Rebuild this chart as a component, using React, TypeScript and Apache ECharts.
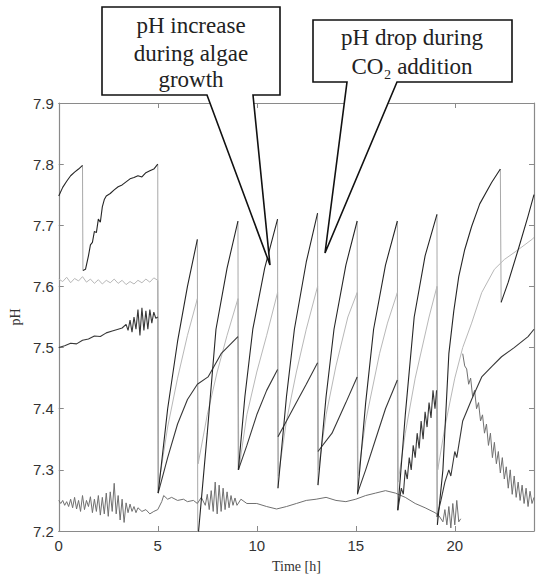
import React, { useEffect, useRef } from "react";
import * as echarts from "echarts";

// Time [h], pH pairs
const reactorA: [number, number][] = [
  [0, 7.748], [0.2, 7.762], [0.4, 7.772], [0.6, 7.781], [0.8, 7.787], [1.0, 7.792], [1.2, 7.798],
  [1.22, 7.626], [1.35, 7.628], [1.5, 7.65], [1.6, 7.668], [1.7, 7.672], [1.8, 7.69], [1.9, 7.688],
  [2.0, 7.71], [2.1, 7.705], [2.2, 7.73], [2.3, 7.742], [2.4, 7.748], [2.6, 7.752], [2.8, 7.758],
  [3.0, 7.763], [3.2, 7.766], [3.4, 7.771], [3.6, 7.776], [3.8, 7.778], [4.0, 7.781], [4.2, 7.779],
  [4.4, 7.786], [4.6, 7.789], [4.8, 7.792], [5.0, 7.8],
  [5.02, 7.262], [5.5, 7.4], [6.0, 7.51], [6.5, 7.6], [7.0, 7.677],
  [7.02, 7.185], [7.5, 7.36], [7.94, 7.53], [8.5, 7.63], [9.05, 7.707],
  [9.07, 7.3], [9.4, 7.42], [9.8, 7.53], [10.4, 7.63], [11.05, 7.71],
  [11.07, 7.27], [11.5, 7.42], [11.9, 7.53], [12.5, 7.64], [13.07, 7.72],
  [13.09, 7.275], [13.5, 7.42], [13.9, 7.53], [14.5, 7.635], [15.07, 7.707],
  [15.09, 7.26], [15.5, 7.41], [15.9, 7.53], [16.5, 7.635], [17.1, 7.707],
  [17.12, 7.234], [17.5, 7.39], [17.95, 7.55], [18.5, 7.65], [19.1, 7.718],
  [19.12, 7.21], [19.4, 7.3], [19.7, 7.49], [19.95, 7.56], [20.2, 7.616], [20.5, 7.66],
  [20.85, 7.698], [21.26, 7.735], [21.86, 7.77], [22.3, 7.792],
  [22.34, 7.574], [22.7, 7.607], [23.2, 7.66], [23.7, 7.715], [24, 7.75],
];

const reactorB: [number, number][] = [
  [0, 7.5], [0.3, 7.503], [0.6, 7.507], [0.9, 7.506], [1.2, 7.512], [1.5, 7.514], [1.8, 7.519],
  [2.1, 7.518], [2.4, 7.524], [2.7, 7.527], [3.0, 7.53], [3.2, 7.532], [3.4, 7.538], [3.5, 7.528],
  [3.6, 7.545], [3.7, 7.525], [3.8, 7.55], [3.9, 7.53], [4.0, 7.562], [4.1, 7.52], [4.2, 7.565],
  [4.3, 7.528], [4.4, 7.56], [4.5, 7.53], [4.6, 7.562], [4.7, 7.54], [4.8, 7.558], [4.9, 7.548],
  [5.0, 7.55],
  [5.02, 7.262], [5.5, 7.32], [6.0, 7.375], [6.5, 7.415], [7.0, 7.44], [7.54, 7.452], [8.2, 7.49],
  [9.05, 7.518],
  [9.07, 7.3], [9.5, 7.34], [10.0, 7.39], [10.5, 7.43], [11.05, 7.464],
  [11.07, 7.354], [11.5, 7.38], [12.0, 7.41], [12.5, 7.44], [13.07, 7.475],
  [13.09, 7.33], [13.8, 7.36], [14.5, 7.41], [15.07, 7.452],
  [15.09, 7.262], [15.5, 7.3], [16.0, 7.35], [16.5, 7.4], [17.1, 7.447],
  [17.12, 7.234], [17.3, 7.27], [17.4, 7.26], [17.5, 7.3], [17.6, 7.285], [17.7, 7.32], [17.8, 7.3],
  [17.9, 7.34], [18.0, 7.32], [18.1, 7.36], [18.2, 7.335], [18.3, 7.38], [18.4, 7.35], [18.5, 7.395],
  [18.6, 7.37], [18.7, 7.41], [18.8, 7.385], [18.9, 7.43], [19.0, 7.4], [19.08, 7.43],
  [19.1, 7.223], [19.3, 7.25], [19.5, 7.28], [19.7, 7.3], [19.8, 7.29], [20.0, 7.33], [20.1, 7.32],
  [20.4, 7.38], [20.85, 7.415], [21.36, 7.452], [21.9, 7.47], [22.36, 7.485], [23.0, 7.5],
  [23.7, 7.518], [24, 7.53],
];

const reactorC: [number, number][] = [
  [0, 7.612], [0.2, 7.608], [0.4, 7.615], [0.6, 7.606], [0.8, 7.613], [1.0, 7.609], [1.2, 7.616],
  [1.4, 7.607], [1.6, 7.612], [1.8, 7.605], [2.0, 7.611], [2.2, 7.604], [2.4, 7.61], [2.6, 7.606],
  [2.8, 7.612], [3.0, 7.605], [3.2, 7.61], [3.4, 7.603], [3.6, 7.608], [3.8, 7.604], [4.0, 7.61],
  [4.2, 7.606], [4.4, 7.612], [4.6, 7.607], [4.8, 7.614], [5.0, 7.61],
  [5.04, 7.275], [5.5, 7.37], [6.0, 7.45], [6.5, 7.52], [7.0, 7.58],
  [7.04, 7.31], [7.5, 7.39], [8.0, 7.46], [8.5, 7.52], [9.05, 7.58],
  [9.09, 7.3], [9.5, 7.39], [10.0, 7.46], [10.5, 7.52], [11.05, 7.59],
  [11.09, 7.29], [11.5, 7.38], [12.0, 7.46], [12.5, 7.53], [13.07, 7.6],
  [13.11, 7.3], [13.5, 7.39], [14.0, 7.47], [14.6, 7.55], [15.07, 7.59],
  [15.11, 7.29], [15.5, 7.38], [16.2, 7.49], [16.6, 7.54], [17.1, 7.59],
  [17.14, 7.28], [17.5, 7.36], [18.0, 7.45], [18.7, 7.55], [19.1, 7.6],
  [19.14, 7.3], [19.5, 7.37], [20.0, 7.45], [20.4, 7.5], [20.85, 7.54], [21.36, 7.59],
  [22.0, 7.628], [22.5, 7.644], [23.2, 7.66], [23.9, 7.677], [24, 7.68],
];

const reactorD: [number, number][] = [
  [0, 7.25], [0.1, 7.245], [0.2, 7.25], [0.3, 7.242], [0.4, 7.248], [0.5, 7.24], [0.6, 7.252],
  [0.7, 7.238], [0.8, 7.255], [0.9, 7.236], [1.0, 7.25], [1.1, 7.232], [1.2, 7.258], [1.3, 7.235],
  [1.4, 7.25], [1.5, 7.24], [1.6, 7.256], [1.7, 7.23], [1.8, 7.252], [1.9, 7.232], [2.0, 7.258],
  [2.1, 7.226], [2.2, 7.255], [2.3, 7.228], [2.4, 7.262], [2.5, 7.224], [2.6, 7.264], [2.7, 7.232],
  [2.8, 7.278], [2.9, 7.228], [3.0, 7.258], [3.1, 7.218], [3.2, 7.252], [3.3, 7.214], [3.4, 7.246],
  [3.5, 7.23], [3.6, 7.244], [3.7, 7.232], [3.8, 7.24], [3.9, 7.23], [4.0, 7.238], [4.2, 7.232],
  [4.4, 7.235], [4.6, 7.228], [4.8, 7.232], [5.0, 7.235], [5.2, 7.248], [5.3, 7.258], [5.5, 7.252],
  [5.7, 7.255], [6.0, 7.25], [6.3, 7.252], [6.5, 7.248], [6.8, 7.25], [7.0, 7.245], [7.2, 7.255],
  [7.4, 7.242], [7.5, 7.26], [7.6, 7.235], [7.7, 7.266], [7.8, 7.232], [7.9, 7.28], [8.0, 7.228],
  [8.1, 7.275], [8.2, 7.232], [8.3, 7.27], [8.4, 7.235], [8.5, 7.264], [8.6, 7.238], [8.7, 7.258],
  [8.8, 7.242], [8.9, 7.254], [9.0, 7.242], [9.2, 7.252], [9.5, 7.245], [10.0, 7.245], [10.5, 7.24],
  [11.0, 7.236], [11.5, 7.24], [12.0, 7.245], [12.5, 7.25], [13.0, 7.252], [13.5, 7.255],
  [14.0, 7.25], [14.5, 7.248], [15.0, 7.252], [15.5, 7.258], [16.0, 7.262], [16.5, 7.266],
  [17.0, 7.262], [17.5, 7.255], [18.0, 7.245], [18.5, 7.238], [19.0, 7.23], [19.2, 7.225],
  [19.4, 7.215], [19.5, 7.235], [19.6, 7.21], [19.7, 7.24], [19.8, 7.205], [19.9, 7.245],
  [20.0, 7.21], [20.1, 7.25], [20.2, 7.215], [20.3, 7.22],
];

const reactorDRecovery: [number, number][] = [
  [20.4, 7.49], [20.5, 7.47], [20.6, 7.465], [20.7, 7.44], [20.8, 7.45], [20.9, 7.42], [21.0, 7.43],
  [21.1, 7.4], [21.2, 7.41], [21.3, 7.38], [21.4, 7.39], [21.5, 7.36], [21.6, 7.375], [21.7, 7.34],
  [21.8, 7.36], [21.9, 7.32], [22.0, 7.345], [22.1, 7.31], [22.2, 7.33], [22.3, 7.295], [22.4, 7.32],
  [22.5, 7.285], [22.6, 7.305], [22.7, 7.27], [22.8, 7.3], [22.9, 7.26], [23.0, 7.29], [23.1, 7.255],
  [23.2, 7.28], [23.3, 7.25], [23.4, 7.275], [23.5, 7.245], [23.6, 7.27], [23.7, 7.24],
  [23.8, 7.265], [23.9, 7.245], [24.0, 7.255],
];

const xTicks = { min: 0, max: 24, interval: 5 };
const yTicks = { min: 7.2, max: 7.9, interval: 0.1 };

const calloutGrowth = ["pH increase", "during algae", "growth"];
const calloutCO2 = ["pH drop during", "CO\u2082 addition"];

// split a trace into its rising parts and its sudden drops (CO2 dosing)
function splitDrops(data: [number, number][]) {
  const rises: any[] = [];
  const drops: any[] = [];
  for (let i = 0; i < data.length; i++) {
    const p = data[i];
    if (i > 0) {
      const q = data[i - 1];
      if (p[0] - q[0] < 0.06 && q[1] - p[1] > 0.05) {
        rises.push([(p[0] + q[0]) / 2, "-"]);
        drops.push(q, p, [(p[0] + q[0]) / 2 + 0.001, "-"]);
      }
    }
    rises.push(p);
  }
  return { rises, drops };
}

export default function App() {
  const ref = useRef<HTMLDivElement>(null);
  useEffect(() => {
    if (!ref.current) return;
    const chart = echarts.init(ref.current, undefined, { renderer: "svg" });
    const axisColor = "#8a8a8a";
    const labelStyle = {
      color: "#333",
      fontSize: 15,
      fontFamily: "'Liberation Sans', Arial, sans-serif",
    };
    const serif = "'Liberation Serif', 'Times New Roman', serif";
    const mkLine = (name: string, data: any[], color: string, width: number, z: number) => ({
      type: "line",
      name,
      data,
      showSymbol: false,
      symbol: "none",
      clip: true,
      connectNulls: false,
      z,
      lineStyle: { color, width },
      emphasis: { disabled: true },
    });
    const textEl = (text: string, x: number, y: number) => ({
      type: "text",
      z: 101,
      style: {
        text,
        x,
        y,
        align: "center",
        verticalAlign: "middle",
        fontFamily: serif,
        fontSize: 23,
        fill: "#222",
      },
    });
    const A = splitDrops(reactorA);
    const B = splitDrops(reactorB);
    const C = splitDrops(reactorC);
    const dropColor = "#a8a8a8";
    chart.setOption({
      animation: false,
      backgroundColor: "#fff",
      grid: { left: 55, right: 2, top: 103, bottom: 49 },
      xAxis: [
        {
          type: "value",
          position: "bottom",
          ...xTicks,
          name: "Time [h]",
          nameLocation: "middle",
          nameGap: 28,
          nameTextStyle: { fontFamily: serif, fontSize: 14, color: "#333" },
          axisLine: { show: true, onZero: false, lineStyle: { color: axisColor, width: 1.2 } },
          axisTick: { show: true, inside: true, length: 5, lineStyle: { color: axisColor } },
          axisLabel: { ...labelStyle, margin: 7, showMaxLabel: false },
          splitLine: { show: false },
        },
        {
          type: "value",
          position: "top",
          ...xTicks,
          axisLine: { show: true, onZero: false, lineStyle: { color: axisColor, width: 1.2 } },
          axisTick: { show: true, inside: true, length: 5, lineStyle: { color: axisColor } },
          axisLabel: { show: false },
          splitLine: { show: false },
        },
      ],
      yAxis: [
        {
          type: "value",
          position: "left",
          ...yTicks,
          name: "pH",
          nameLocation: "middle",
          nameGap: 36,
          nameTextStyle: { fontFamily: serif, fontSize: 14, color: "#333" },
          axisLine: { show: true, onZero: false, lineStyle: { color: axisColor, width: 1.2 } },
          axisTick: { show: true, inside: true, length: 5, lineStyle: { color: axisColor } },
          axisLabel: { ...labelStyle, margin: 5, formatter: (v: number) => v.toFixed(1) },
          splitLine: { show: false },
        },
        {
          type: "value",
          position: "right",
          ...yTicks,
          axisLine: { show: true, onZero: false, lineStyle: { color: axisColor, width: 1.2 } },
          axisTick: { show: true, inside: true, length: 5, lineStyle: { color: axisColor } },
          axisLabel: { show: false },
          splitLine: { show: false },
        },
      ],
      series: [
        mkLine("drops", [...C.drops, ...B.drops, ...A.drops], dropColor, 1, 1),
        mkLine("C", C.rises, "#b8b8b8", 1, 2),
        mkLine("D", reactorD, "#707070", 1, 3),
        mkLine("D2", reactorDRecovery, "#707070", 1, 3),
        mkLine("B", B.rises, "#383838", 1.1, 4),
        mkLine("A", A.rises, "#262626", 1.1, 5),
      ],
      graphic: [
        {
          type: "polygon",
          z: 100,
          shape: {
            points: [[102, 7], [280, 7], [280, 95], [253, 95], [270, 265], [207, 95], [102, 95]],
          },
          style: { fill: "#fff", stroke: "#111", lineWidth: 1.6 },
        },
        {
          type: "polygon",
          z: 100,
          shape: {
            points: [[313, 20], [512, 20], [512, 82], [397, 82], [325, 253], [347, 82], [313, 82]],
          },
          style: { fill: "#fff", stroke: "#111", lineWidth: 1.6 },
        },
        textEl(calloutGrowth[0], 191, 25),
        textEl(calloutGrowth[1], 191, 53),
        textEl(calloutGrowth[2], 191, 79),
        textEl(calloutCO2[0], 412, 37),
        textEl(calloutCO2[1], 412, 66),
      ],
    });
    return () => chart.dispose();
  }, []);
  return (
    <div
      ref={ref}
      style={{ position: "fixed", left: 0, top: 0, width: 536, height: 580, background: "#fff" }}
    />
  );
}
